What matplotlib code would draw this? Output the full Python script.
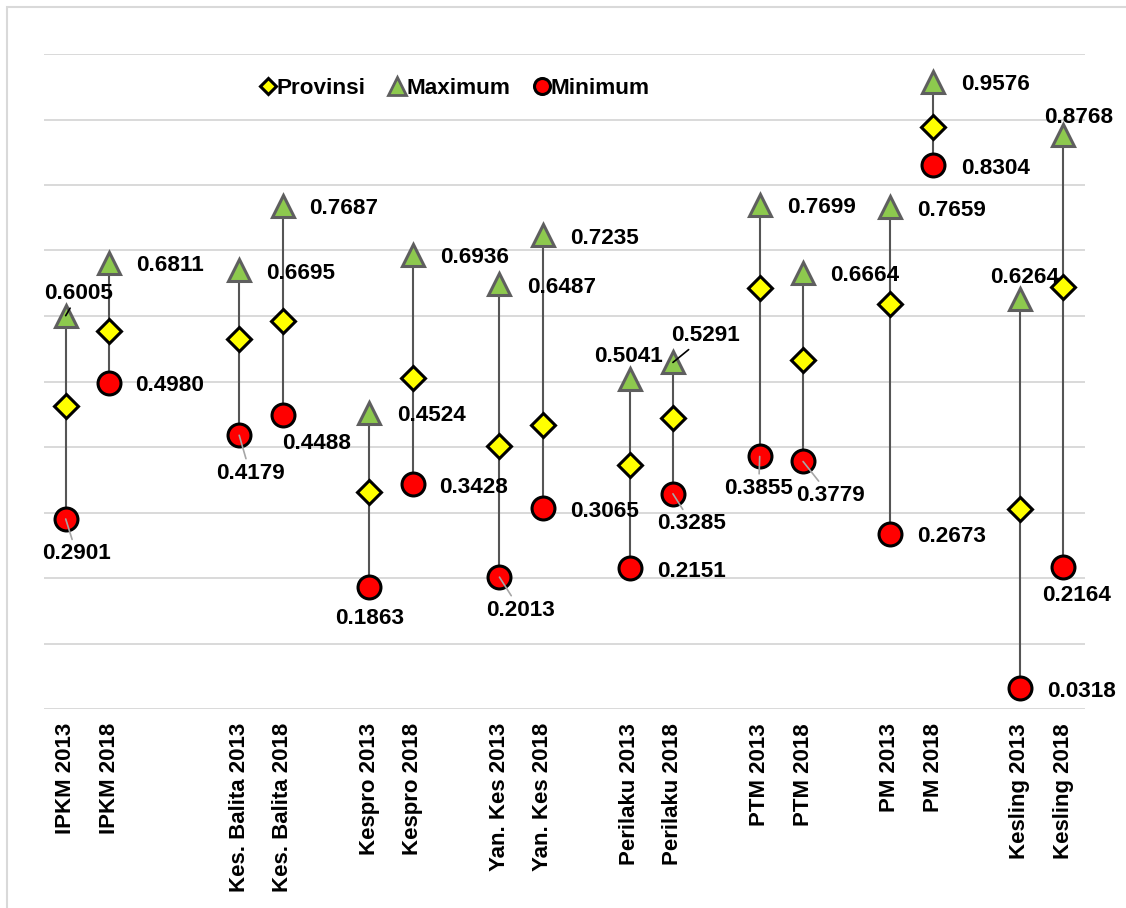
import matplotlib.pyplot as plt
import matplotlib.patches as patches
from matplotlib.lines import Line2D
import numpy as np

plt.rcParams['font.family'] = ['Liberation Sans', 'DejaVu Sans']
plt.rcParams['font.weight'] = 'bold'

nan = np.nan

# categories (empty strings are the gaps between groups)
cats = ['IPKM 2013', 'IPKM 2018', '', '',
        'Kes. Balita 2013', 'Kes. Balita 2018', '',
        'Kespro 2013', 'Kespro 2018', '',
        'Yan. Kes 2013', 'Yan. Kes 2018', '',
        'Perilaku 2013', 'Perilaku 2018', '',
        'PTM 2013', 'PTM 2018', '',
        'PM 2013', 'PM 2018', '',
        'Kesling 2013', 'Kesling 2018']

maximum = [0.6005, 0.6811, nan, nan, 0.6695, 0.7687, nan, 0.4524, 0.6936, nan,
           0.6487, 0.7235, nan, 0.5041, 0.5291, nan, 0.7699, 0.6664, nan,
           0.7659, 0.9576, nan, 0.6264, 0.8768]
minimum = [0.2901, 0.4980, nan, nan, 0.4179, 0.4488, nan, 0.1863, 0.3428, nan,
           0.2013, 0.3065, nan, 0.2151, 0.3285, nan, 0.3855, 0.3779, nan,
           0.2673, 0.8304, nan, 0.0318, 0.2164]
provinsi = [0.462, 0.577, nan, nan, 0.565, 0.592, nan, 0.331, 0.505, nan,
            0.401, 0.433, nan, 0.373, 0.445, nan, 0.642, 0.533, nan,
            0.619, 0.888, nan, 0.306, 0.644]

# label offsets in pixels (dx right, dy down) -- layout only
max_off = [(13, -25), (61, 0), None, None, (61, 0), (61, 0), None, (62, 0), (62, 0), None,
           (62, 0), (62, 0), None, (-1, -25), (33, -30), None, (62, 0), (62, 0), None,
           (62, 0), (62, 0), None, (5, -24), (15, -20)]
min_off = [(11, 32), (61, 0), None, None, (11, 35), (34, 25), None, (0, 29), (61, 0), None,
           (21, 30), (62, 0), None, (62, 0), (19, 27), None, (-1, 29), (27, 31), None,
           (62, 0), (62, 0), None, (62, 0), (13, 25)]
max_lead = {0: 'black', 14: 'black'}
min_lead = {0: '#A6A6A6', 4: '#A6A6A6', 10: '#A6A6A6', 14: '#A6A6A6', 16: '#A6A6A6', 17: '#A6A6A6'}

x = np.arange(len(cats))
mx = np.array(maximum)
mn = np.array(minimum)
pv = np.array(provinsi)

fig = plt.figure(figsize=(11.26, 9.08), dpi=100)
ax = fig.add_axes([44/1126, 1-709/908, 1041/1126, 655/908])

# high-low lines
ax.vlines(x, mn, mx, color='#555555', lw=1.5, zorder=2)

ax.plot(x, mx, ls='none', marker='^', ms=16.5, mfc='#8DC94E', mec='#5F5F5F', mew=2.2, zorder=3)
ax.plot(x, mn, ls='none', marker='o', ms=16.5, mfc='#FF0000', mec='black', mew=2.2, zorder=3)
ax.plot(x, pv, ls='none', marker='D', ms=12, mfc='#FFFF00', mec='black', mew=2.2, zorder=4)

fs = 16.2
for i in range(len(cats)):
    if np.isnan(mx[i]):
        continue
    for vals, offs, leads in [(mx, max_off, max_lead), (mn, min_off, min_lead)]:
        dx, dy = offs[i]
        ap = None
        if i in leads:
            ap = dict(arrowstyle='-', color=leads[i], lw=1.2, shrinkA=1, shrinkB=0)
        ax.annotate(f"{vals[i]:.4f}", xy=(x[i], vals[i]), xytext=(dx, -dy - 3),
                    textcoords='offset pixels', ha='center', va='center',
                    fontsize=fs, fontweight='bold', color='black',
                    arrowprops=ap, zorder=5)

ax.set_xlim(-0.5, len(cats) - 0.5)
ax.set_ylim(0, 1.0)
ax.set_yticks(np.arange(0, 1.01, 0.1))
ax.yaxis.grid(True, color='#D9D9D9', lw=1.4)
ax.set_axisbelow(True)
ax.tick_params(axis='y', left=False, labelleft=False)
ax.set_xticks(x, cats, rotation=90, fontsize=16, fontweight='bold')
ax.tick_params(axis='x', length=0, pad=10)
for s in ax.spines.values():
    s.set_visible(False)

handles = [
    Line2D([], [], ls='none', marker='D', ms=8.5, mfc='#FFFF00', mec='black', mew=2.2),
    Line2D([], [], ls='none', marker='^', ms=12.5, mfc='#8DC94E', mec='#5F5F5F', mew=2),
    Line2D([], [], ls='none', marker='o', ms=11.5, mfc='#FF0000', mec='black', mew=2.2),
]
ax.legend(handles, ['Provinsi', 'Maximum', 'Minimum'], loc='center',
          bbox_to_anchor=(0.395, 0.947), ncol=3, frameon=False,
          prop=dict(size=fs, weight='bold'), handlelength=0.6,
          handletextpad=0.1, columnspacing=1.1)

# chart border (only left and top visible)
fig.patches.append(patches.Rectangle((7/1126, -0.1), 2, (1 - 7/908) + 0.1,
                                     transform=fig.transFigure, fill=False,
                                     edgecolor='#D9D9D9', lw=1.5))

plt.savefig('out.png', dpi=100)
